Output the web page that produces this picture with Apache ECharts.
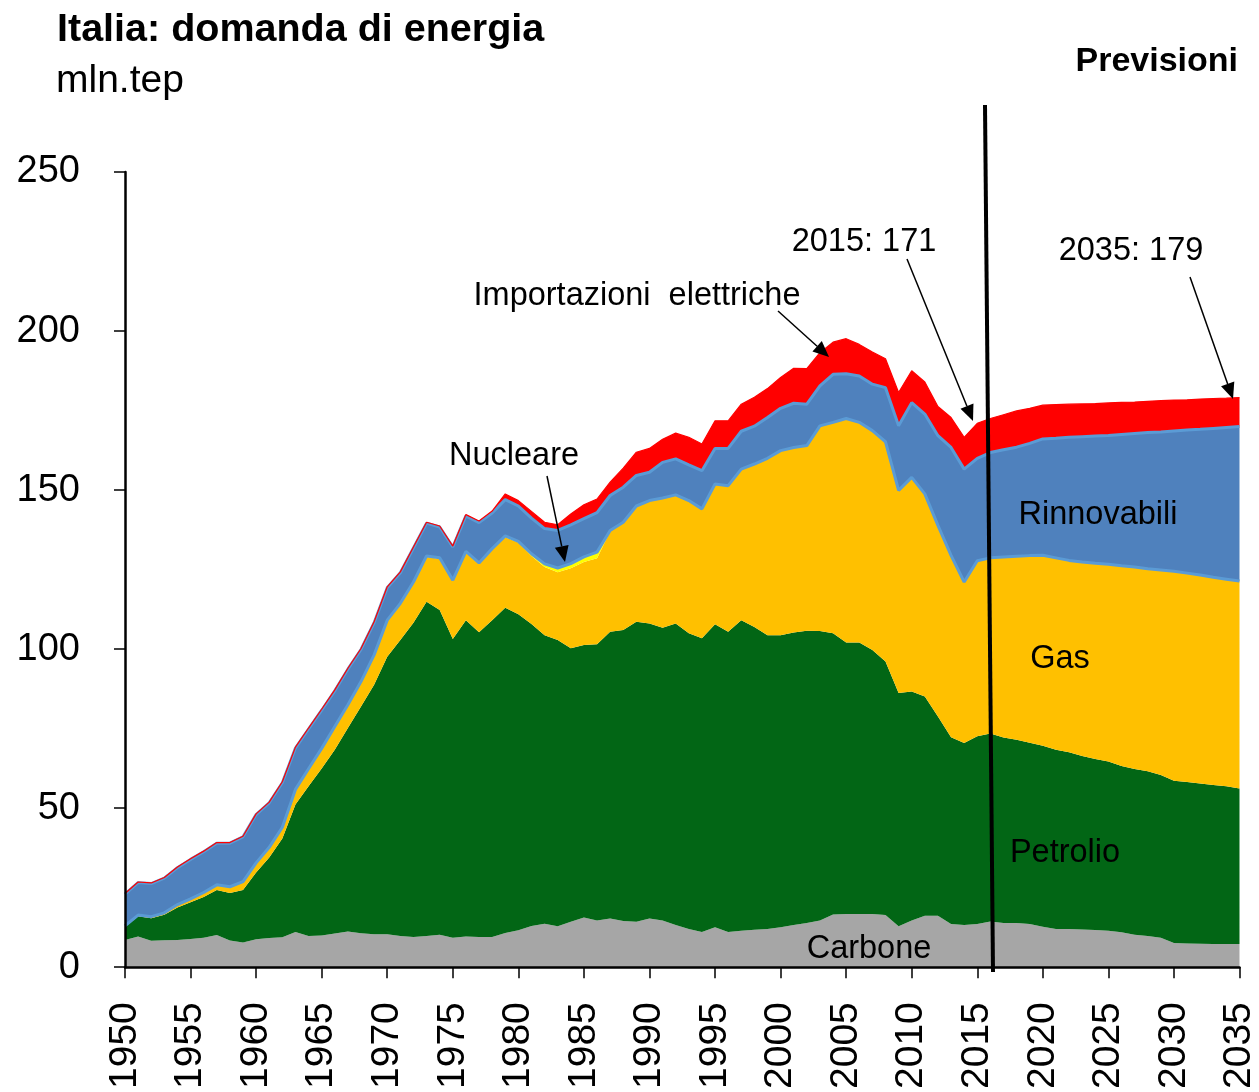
<!DOCTYPE html>
<html>
<head>
<meta charset="utf-8">
<script src="https://cdn.jsdelivr.net/npm/echarts@6/dist/echarts.min.js"></script>
<style>
html,body{margin:0;padding:0;background:#fff;}
#chart{width:1259px;height:1092px;}
</style>
</head>
<body>
<div id="chart"></div>
<script>
// Years 1950..2035 (categories)
const years = [];
for (let y = 1950; y <= 2035; y++) years.push(String(y));

// mln.tep
const carbone = [8.6,9.7,8.3,8.5,8.6,8.9,9.3,10.1,8.4,7.8, 8.8,9.2,9.4,11.1,9.8,10.0,10.6,11.2,10.7,10.4, 10.4,9.8,9.5,9.8,10.2,9.3,9.7,9.5,9.5,10.8, 11.6,13.0,13.7,12.9,14.3,15.6,14.7,15.3,14.5,14.3, 15.3,14.7,13.3,12.0,11.1,12.6,11.1,11.5,11.8,12.0, 12.6,13.3,13.9,14.7,16.6,16.7,16.7,16.7,16.4,12.9, 14.7,16.2,16.2,13.6,13.3,13.6,14.4,13.9,13.9,13.6, 12.7,12.0,12.0,11.9,11.7,11.5,11.0,10.2,9.8,9.3, 7.6,7.5,7.4,7.3,7.3,7.3];
const petrolio = [4.1,6.3,7.1,8.0,10.2,11.5,12.8,14.2,14.9,16.5, 21.0,25.3,31.1,40.1,47.1,52.5,57.8,64.0,71.3,78.4, 87.2,93.1,98.8,105.1,102.1,93.9,99.4,95.8,99.6,102.2, 99.4,94.9,90.7,90.0,86.0,85.7,86.8,90.2,91.5,94.3, 92.8,92.0,94.8,93.0,92.3,95.2,94.4,97.6,95.2,92.4, 91.8,91.9,91.9,91.0,88.4,85.4,85.4,83.0,79.7,73.3, 72.0,68.9,62.6,58.7,57.2,59.0,59.1,58.3,57.6,57.0, 56.9,56.4,55.6,54.5,53.8,53.2,52.3,52.1,51.8,51.1, 51.0,50.7,50.4,50.0,49.6,48.9];
const gas = [0.3,0.4,0.5,0.6,0.9,1.1,1.4,1.6,2.0,2.6, 3.0,3.2,3.5,4.5,5.2,6.0,7.0,7.0,7.5,9.1, 11.2,11.2,12.5,14.1,16.1,18.2,21.3,21.5,22.2,22.2, 22.5,21.4,21.4,21.3,25.1,26.1,27.1,31.6,33.9,36.4, 38.6,40.8,40.4,41.7,40.7,44.1,45.9,47.5,51.2,55.6, 58.0,58.2,58.2,64.5,66.3,70.4,69.2,69.0,69.1,63.7, 67.3,63.7,60.1,57.2,50.6,55.2,55.2,56.8,57.7,58.8, 59.9,60.3,60.3,61.0,61.5,62.0,62.9,63.5,63.7,64.5, 65.9,65.7,65.5,65.3,65.1,65.2];
const nucleare = [0,0,0,0,0,0,0,0,0,0, 0,0,0,0.2,0.3,0.3,0.3,0.3,0.3,0.3, 0.3,0.3,0.3,0.3,0.3,0.3,0.3,0.3,0.3,0.4, 0.4,0.7,1.0,1.3,1.5,1.6,1.9,0.2,0,0, 0,0,0,0,0,0,0,0,0,0, 0,0,0,0,0,0,0,0,0,0, 0,0,0,0,0,0,0,0,0,0, 0,0,0,0,0,0,0,0,0,0, 0,0,0,0,0,0];
const rinnovabili = [10.0,10.2,10.4,10.9,11.6,12.4,12.8,13.1,13.7,14.1, 15.2,14.0,14.0,13.0,12.5,12.0,11.2,11.2,10.1,10.1, 10.2,9.6,10.7,10.3,9.7,10.4,11.2,12.7,11.2,11.4, 11.1,11.2,11.1,11.8,12.2,12.0,12.4,11.0,11.0,9.6, 8.9,11.2,11.3,11.2,12.0,11.2,11.7,11.9,11.9,12.8, 13.3,13.9,13.0,12.6,15.1,14.1,14.6,14.6,17.0,20.3, 23.5,25.1,28.2,33.9,35.5,32.2,33.1,33.7,34.3,35.3, 36.6,37.6,38.7,39.4,40.0,40.5,41.3,42.0,42.8,43.4, 44.1,45.0,45.8,46.8,47.7,48.6];
const importazioni = [0.2,0.2,0.2,0.2,0.2,0.2,0.2,0.2,0.2,0.2, 0.2,0.2,0.3,0.3,0.3,0.3,0.3,0.3,0.3,0.3, 0.3,0.3,0.3,0.3,0.3,0.3,0.4,0.5,0.6,1.8, 1.7,2.1,2.0,1.8,3.4,4.4,4.3,4.2,6.0,7.3, 7.5,7.3,8.1,8.7,8.4,8.7,8.7,8.5,9.1,9.1, 9.7,11.0,11.2,10.4,10.1,11.0,9.9,10.1,9.1,10.5, 10.0,10.1,9.2,9.4,10.0,11.0,10.7,11.0,11.4,11.0, 10.6,10.6,10.4,10.3,10.2,10.2,10.1,9.9,9.8,9.8, 9.7,9.5,9.5,9.4,9.2,9.1];

const yTicks = [0, 50, 100, 150, 200, 250];

const FONT = 'Arial, "Liberation Sans", Helvetica, sans-serif';

function areaSeries(name, data, fill, line) {
  return {
    name: name,
    type: 'line',
    stack: 'totale',
    data: data,
    symbol: 'none',
    smooth: false,
    areaStyle: { color: fill, opacity: 1 },
    lineStyle: line ? line : { width: 0, opacity: 0 },
    emphasis: { disabled: true },
    silent: true
  };
}

const chart = echarts.init(document.getElementById('chart'), null, { renderer: 'canvas' });

function text(str, x, y, size, opts) {
  opts = opts || {};
  return {
    type: 'text', x: x, y: y, z: 100,
    style: {
      text: str, fill: '#000', fontFamily: FONT, fontSize: size,
      fontWeight: opts.bold ? 'bold' : 'normal',
      align: opts.align || 'center', verticalAlign: 'middle'
    }
  };
}

function arrow(x1, y1, x2, y2) {
  const ang = Math.atan2(y2 - y1, x2 - x1);
  const len = 16, half = 7;
  const bx = x2 - len * Math.cos(ang), by = y2 - len * Math.sin(ang);
  const px = -Math.sin(ang) * half, py = Math.cos(ang) * half;
  return [
    { type: 'line', z: 100, shape: { x1: x1, y1: y1, x2: bx, y2: by }, style: { stroke: '#000', lineWidth: 1.5 } },
    { type: 'polygon', z: 100, shape: { points: [[x2, y2], [bx + px, by + py], [bx - px, by - py]] }, style: { fill: '#000' } }
  ];
}

const graphics = [
  text('Italia: domanda di energia', 57, 30, 39.5, { bold: true, align: 'left' }),
  text('mln.tep', 56, 81, 39, { align: 'left' }),
  text('Previsioni', 1238, 62, 34, { bold: true, align: 'right' }),
  text('2015: 171', 864, 242, 32.5),
  text('2035: 179', 1131, 251, 32.5),
  text('Importazioni  elettriche', 637, 296, 32.5),
  text('Nucleare', 514, 456, 32.5),
  text('Rinnovabili', 1098, 515, 32.5),
  text('Gas', 1060, 659, 32.5),
  text('Petrolio', 1065, 853, 32.5),
  text('Carbone', 869, 949, 32.5),
  { type: 'line', z: 101, shape: { x1: 985, y1: 105, x2: 993, y2: 972 }, style: { stroke: '#000', lineWidth: 4 } }
].concat(arrow(778, 311, 829, 357))
 .concat(arrow(547, 476, 565, 562))
 .concat(arrow(907, 259, 973, 421))
 .concat(arrow(1190, 277, 1233, 399));

const option = {
  animation: false,
  backgroundColor: '#fff',
  grid: { left: 125, right: 19, top: 172, bottom: 122, containLabel: false },
  xAxis: {
    type: 'category',
    data: years,
    boundaryGap: false,
    axisLine: { show: true, lineStyle: { color: '#000', width: 2.5 } },
    axisTick: { show: true, interval: 4, length: 11, lineStyle: { color: '#000', width: 1.5 } },
    axisLabel: { interval: 4, rotate: 90, margin: 35, fontSize: 39, color: '#000', fontFamily: FONT },
    splitLine: { show: false },
    z: 10
  },
  yAxis: {
    type: 'value',
    min: yTicks[0], max: yTicks[yTicks.length - 1], interval: 50,
    axisLine: { show: true, lineStyle: { color: '#000', width: 2.5 } },
    axisTick: { show: true, length: 11, lineStyle: { color: '#000', width: 1.5 } },
    axisLabel: { margin: 45, fontSize: 38, color: '#000', fontFamily: FONT },
    splitLine: { show: false },
    z: 10
  },
  series: [
    areaSeries('Carbone', carbone, '#A6A6A6'),
    areaSeries('Petrolio', petrolio, '#026615'),
    areaSeries('Gas', gas, '#FFC000'),
    areaSeries('Nucleare', nucleare, '#FFFF00', { color: '#5B9BD5', width: 3 }),
    areaSeries('Rinnovabili', rinnovabili, '#4F81BD', { color: '#5B9BD5', width: 3 }),
    areaSeries('Importazioni elettriche', importazioni, '#FF0000', { color: '#FF0000', width: 1.2 })
  ],
  graphic: graphics
};

chart.setOption(option);
</script>
</body>
</html>
